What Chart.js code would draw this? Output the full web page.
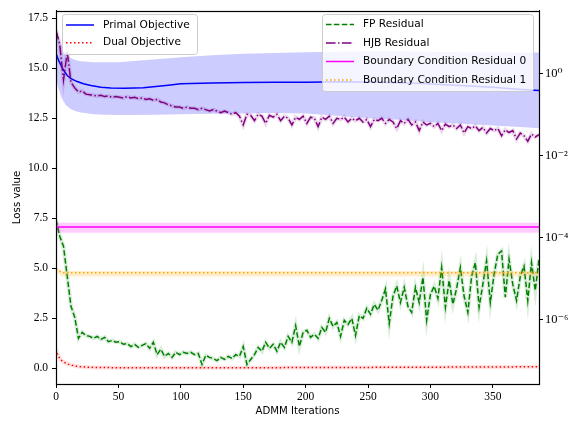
<!DOCTYPE html>
<html>
<head>
<meta charset="utf-8">
<script src="https://cdn.jsdelivr.net/npm/chart.js@4/dist/chart.umd.min.js"></script>
<style>
  html, body { margin: 0; padding: 0; background: #fff; }
</style>
</head>
<body>
<canvas id="chart" width="573" height="423"></canvas>
<script>
// ---- data ----
const xTickValues = [0, 50, 100, 150, 200, 250, 300, 350];
const leftTickValues = [0, 2.5, 5, 7.5, 10, 12.5, 15, 17.5];
const rightTickValues = [1e-6, 1e-4, 1e-2, 1];
const rightTickLabels = ["10\u207B\u2076", "10\u207B\u2074", "10\u207B\u00B2", "10\u2070"];
const xTitle = "ADMM Iterations";
const yTitle = "Loss value";

const leftLabels = ["Primal Objective", "Dual Objective"];
const rightLabels = ["FP Residual", "HJB Residual", "Boundary Condition Residual 0", "Boundary Condition Residual 1"];

// primal objective (left axis) and its band
const primalIters = [0, 2, 4, 6, 9, 12, 17, 22, 28, 36, 44, 55, 70, 80, 90, 100, 125, 150, 175, 200, 230, 260, 290, 320, 350, 370, 387];
const primalValues = [15.75, 15.4, 15.14, 14.9, 14.63, 14.48, 14.33, 14.22, 14.13, 14.05, 14.01, 14.0, 14.02, 14.08, 14.15, 14.22, 14.26, 14.28, 14.29, 14.29, 14.32, 14.3, 14.24, 14.15, 14.05, 13.95, 13.88];
const bandIters = [0, 2, 4, 6, 8, 12, 16, 20, 30, 40, 50, 60, 80, 100, 125, 150, 175, 200, 225, 250, 275, 300, 325, 350, 375, 387];
const primalUpper = [16.9, 16.6, 16.2, 15.9, 15.7, 15.5, 15.4, 15.35, 15.3, 15.3, 15.3, 15.35, 15.45, 15.55, 15.65, 15.72, 15.76, 15.8, 15.82, 15.85, 15.85, 15.82, 15.8, 15.8, 15.78, 15.78];
const primalLower = [14.5, 14.0, 13.6, 13.35, 13.15, 12.95, 12.85, 12.78, 12.7, 12.67, 12.66, 12.66, 12.67, 12.7, 12.72, 12.74, 12.76, 12.73, 12.62, 12.5, 12.42, 12.3, 12.22, 12.13, 12.05, 12.0];

// dual objective (left axis)
const dualIters = [0, 1, 2, 3, 4, 6, 8, 10, 13, 16, 20, 25, 30, 40, 60, 100, 200, 300, 387];
const dualValues = [0.95, 0.75, 0.6, 0.5, 0.42, 0.32, 0.25, 0.2, 0.15, 0.11, 0.08, 0.06, 0.05, 0.04, 0.03, 0.03, 0.04, 0.06, 0.08];

// residuals (right log axis), sampled every 3 iterations
const residualStep = 3;
const hjbValues = [
  11.2, 5.0, 0.68, 3.3, 0.60, 0.44, 0.35, 0.37, 0.31, 0.30,
  0.29, 0.28, 0.29, 0.27, 0.28, 0.26, 0.27, 0.26, 0.25, 0.27,
  0.25, 0.26, 0.24, 0.25, 0.23, 0.24, 0.22, 0.23, 0.20, 0.19,
  0.17, 0.16, 0.15, 0.15, 0.14, 0.15, 0.14, 0.14, 0.13, 0.14,
  0.13, 0.12, 0.13, 0.12, 0.11, 0.12, 0.11, 0.10, 0.11, 0.09,
  0.055, 0.10, 0.095, 0.07, 0.10, 0.09, 0.06, 0.095, 0.085, 0.10,
  0.07, 0.09, 0.08, 0.055, 0.085, 0.075, 0.09, 0.06, 0.085, 0.08,
  0.05, 0.085, 0.075, 0.09, 0.06, 0.08, 0.075, 0.085, 0.065, 0.08,
  0.07, 0.08, 0.065, 0.075, 0.05, 0.075, 0.07, 0.08, 0.06, 0.075,
  0.065, 0.045, 0.07, 0.06, 0.075, 0.055, 0.065, 0.04, 0.065, 0.055,
  0.06, 0.05, 0.06, 0.04, 0.058, 0.05, 0.055, 0.045, 0.055, 0.035,
  0.05, 0.045, 0.052, 0.04, 0.048, 0.035, 0.045, 0.04, 0.045, 0.03,
  0.042, 0.036, 0.04, 0.025, 0.035, 0.03, 0.022, 0.033, 0.028, 0.032
];
const fpValues = [
  2.7e-4, 1.07e-4, 6.1e-5, 1.13e-5, 2.1e-6, 1.15e-6, 3.5e-7, 4.9e-7, 4.1e-7, 3.9e-7,
  3.5e-7, 3.9e-7, 3.3e-7, 3.7e-7, 2.9e-7, 3.1e-7, 2.8e-7, 2.9e-7, 2.5e-7, 2.6e-7,
  2.2e-7, 2.5e-7, 2.1e-7, 2.35e-7, 2.6e-7, 2.0e-7, 2.8e-7, 1.4e-7, 1.9e-7, 1.27e-7,
  1.5e-7, 1.2e-7, 1.6e-7, 1.4e-7, 1.6e-7, 1.5e-7, 1.6e-7, 1.4e-7, 1.5e-7, 8.1e-8,
  1.35e-7, 1.2e-7, 1.13e-7, 1.0e-7, 1.2e-7, 1.07e-7, 1.27e-7, 1.13e-7, 1.4e-7, 1.27e-7,
  2.2e-7, 8.1e-8, 1.07e-7, 1.4e-7, 2.1e-7, 1.7e-7, 2.8e-7, 2.0e-7, 2.5e-7, 1.7e-7,
  2.8e-7, 2.1e-7, 3.9e-7, 2.8e-7, 7.1e-7, 2.2e-7, 4.9e-7, 5.5e-7, 3.7e-7, 4.4e-7,
  3.5e-7, 6.4e-7, 4.9e-7, 1.07e-6, 6.8e-7, 8.5e-7, 3.9e-7, 9.6e-7, 7.6e-7, 1.07e-6,
  4.1e-7, 1.25e-6, 1.07e-6, 1.88e-6, 1.35e-6, 2.35e-6, 1.68e-6, 2.94e-6, 5.6e-6, 8.0e-7,
  3.7e-6, 6.6e-6, 2.6e-6, 6.1e-6, 2.1e-6, 1.5e-6, 6.1e-6, 2.6e-6, 1.07e-5, 9.6e-7,
  4.1e-6, 6.5e-6, 3.3e-6, 1.85e-5, 2.0e-6, 9.0e-6, 2.35e-6, 5.8e-6, 1.85e-5, 3.7e-6,
  1.5e-6, 1.13e-5, 2.45e-5, 2.0e-6, 7.2e-6, 2.7e-5, 2.6e-6, 1.27e-5, 3.9e-5, 4.7e-5,
  3.5e-6, 2.95e-5, 7.2e-6, 2.9e-6, 1.13e-5, 2.0e-5, 2.9e-6, 2.45e-5, 5.1e-6, 2.95e-5
];

// boundary condition residuals (right log axis), flat with a band
const bcIters = [0, 5, 387];
const bc0Values = [1.8e-4, 1.8e-4, 1.8e-4];
const bc0Upper = [2.3e-4, 2.3e-4, 2.3e-4];
const bc0Lower = [1.3e-4, 1.3e-4, 1.3e-4];
const bc1Values = [1.7e-5, 1.38e-5, 1.38e-5];
const bc1Upper = [1.9e-5, 1.52e-5, 1.52e-5];
const bc1Lower = [1.45e-5, 1.12e-5, 1.12e-5];

// ---- helpers ----
const residualIters = [];
for (let i = 0; i < hjbValues.length; i++) residualIters.push(i * residualStep);

const pts = (xs, ys) => xs.map((x, i) => ({ x: x, y: ys[i] }));

const tickFont = { family: "'Liberation Serif', 'DejaVu Serif', serif", size: 11.5 };
const axisFont = { family: "'DejaVu Sans', sans-serif", size: 10.2 };
const legendFont = "10.6px 'DejaVu Sans', sans-serif";

const line = (label, data, axis, color, width, dash, order, extra) => Object.assign({
  label: label,
  data: data,
  yAxisID: axis,
  borderColor: color,
  backgroundColor: color,
  borderWidth: width,
  borderDash: dash,
  pointRadius: 0,
  tension: 0,
  fill: false,
  order: order,
}, extra || {});

const datasets = [
  // 0,1: primal band
  line("primal upper", pts(bandIters, primalUpper), "y", "rgba(0,0,0,0)", 0, [], 100, { fill: { target: 1 }, backgroundColor: "rgba(0,0,255,0.2)" }),
  line("primal lower", pts(bandIters, primalLower), "y", "rgba(0,0,0,0)", 0, [], 99),
  line(leftLabels[0], pts(primalIters, primalValues), "y", "#0000ff", 1.5, [], 90),
  line("dual halo", pts(dualIters, dualValues), "y", "rgba(255,0,0,0.12)", 4, [], 85),
  line(leftLabels[1], pts(dualIters, dualValues), "y", "#ff0000", 1.5, [1.5, 2.5], 80),
  line("fp halo", pts(residualIters, fpValues), "y2", "rgba(0,128,0,0.14)", 4, [], 70),
  line(rightLabels[0], pts(residualIters, fpValues), "y2", "#008000", 1.5, [5.5, 2.4], 65),
  line("hjb halo", pts(residualIters, hjbValues), "y2", "rgba(128,0,128,0.15)", 4, [], 60),
  line(rightLabels[1], pts(residualIters, hjbValues), "y2", "#800080", 1.5, [9.6, 2.4, 1.5, 2.4], 55),
  // 9,10: bc0 band
  line("bc0 upper", pts(bcIters, bc0Upper), "y2", "rgba(0,0,0,0)", 0, [], 50, { fill: { target: 10 }, backgroundColor: "rgba(255,0,255,0.2)" }),
  line("bc0 lower", pts(bcIters, bc0Lower), "y2", "rgba(0,0,0,0)", 0, [], 49),
  line(rightLabels[2], pts(bcIters, bc0Values), "y2", "#ff00ff", 1.5, [], 45),
  // 12,13: bc1 band
  line("bc1 upper", pts(bcIters, bc1Upper), "y2", "rgba(0,0,0,0)", 0, [], 40, { fill: { target: 13 }, backgroundColor: "rgba(255,165,0,0.2)" }),
  line("bc1 lower", pts(bcIters, bc1Lower), "y2", "rgba(0,0,0,0)", 0, [], 39),
  line(rightLabels[3], pts(bcIters, bc1Values), "y2", "#ffa500", 1.5, [1.5, 2.5], 35),
];

// legend boxes like matplotlib's
const leftLegend = [
  { label: leftLabels[0], color: "#0000ff", dash: [] },
  { label: leftLabels[1], color: "#ff0000", dash: [1.5, 2.5] },
];
const rightLegend = [
  { label: rightLabels[0], color: "#008000", dash: [5.5, 2.4] },
  { label: rightLabels[1], color: "#800080", dash: [9.6, 2.4, 1.5, 2.4] },
  { label: rightLabels[2], color: "#ff00ff", dash: [] },
  { label: rightLabels[3], color: "#ffa500", dash: [1.5, 2.5] },
];

function drawLegendBox(ctx, box, items) {
  ctx.save();
  ctx.beginPath();
  ctx.roundRect(box.x + 0.5, box.y + 0.5, box.w, box.h, 3);
  ctx.fillStyle = "rgba(255,255,255,0.8)";
  ctx.fill();
  ctx.strokeStyle = "#cccccc";
  ctx.lineWidth = 1;
  ctx.stroke();
  items.forEach((it, i) => {
    const y = box.y + box.first + i * box.step;
    ctx.beginPath();
    ctx.setLineDash(it.dash);
    ctx.strokeStyle = it.color;
    ctx.lineWidth = 1.5;
    ctx.moveTo(box.x + 4, y);
    ctx.lineTo(box.x + 32, y);
    ctx.stroke();
    ctx.setLineDash([]);
    ctx.fillStyle = "#000";
    ctx.font = legendFont;
    ctx.textBaseline = "middle";
    ctx.fillText(it.label, box.x + 41, y);
  });
  ctx.restore();
}

const framePlugin = {
  id: "frameAndLegends",
  afterDatasetsDraw(chart) {
    const { ctx, chartArea: a } = chart;
    ctx.save();
    ctx.strokeStyle = "#000";
    ctx.lineWidth = 1.2;
    ctx.strokeRect(Math.round(a.left) + 0.5, Math.round(a.top) + 0.5, Math.round(a.right - a.left), Math.round(a.bottom - a.top));
    ctx.restore();
    drawLegendBox(ctx, { x: 62, y: 14, w: 135, h: 40, first: 11, step: 17.7 }, leftLegend);
    drawLegendBox(ctx, { x: 322, y: 14, w: 211, h: 77, first: 10.5, step: 18.5 }, rightLegend);
  },
};

const canvas = document.getElementById("chart");

new Chart(canvas, {
  type: "line",
  data: { datasets: datasets },
  plugins: [framePlugin],
  options: {
    responsive: false,
    animation: false,
    layout: { padding: { top: 8, left: 0, right: 0, bottom: 0 }, autoPadding: false },
    plugins: { legend: { display: false }, tooltip: { enabled: false } },
    scales: {
      x: {
        type: "linear",
        min: 0,
        max: 387,
        afterBuildTicks: (s) => { s.ticks = xTickValues.map((v) => ({ value: v })); },
        afterFit: (s) => { s.height = 39; },
        ticks: { font: tickFont, color: "#000", padding: 2, maxRotation: 0, autoSkip: false, callback: (v) => String(v) },
        grid: { drawOnChartArea: false, tickLength: 4, tickColor: "#000" },
        border: { color: "#000" },
        title: { display: true, text: xTitle, font: axisFont, color: "#000", padding: { top: 0, bottom: 6 } },
      },
      y: {
        type: "linear",
        position: "left",
        min: -0.78,
        max: 17.86,
        afterBuildTicks: (s) => { s.ticks = leftTickValues.map((v) => ({ value: v })); },
        afterFit: (s) => { s.width = 56; },
        ticks: { font: tickFont, color: "#000", padding: 4, autoSkip: false, callback: (v) => v.toFixed(1) },
        grid: { drawOnChartArea: false, tickLength: 4, tickColor: "#000" },
        border: { color: "#000" },
        title: { display: true, text: yTitle, font: axisFont, color: "#000", padding: { top: 11, bottom: 0 } },
      },
      y2: {
        type: "logarithmic",
        position: "right",
        min: 2.7e-8,
        max: 33,
        afterBuildTicks: (s) => { s.ticks = rightTickValues.map((v) => ({ value: v })); },
        afterFit: (s) => { s.width = 34; },
        ticks: { font: { family: tickFont.family, size: 12.5 }, color: "#000", padding: 2, autoSkip: false, callback: (v, i) => rightTickLabels[i] },
        grid: { drawOnChartArea: false, tickLength: 4, tickColor: "#000" },
        border: { color: "#000" },
      },
    },
  },
});
</script>
</body>
</html>
